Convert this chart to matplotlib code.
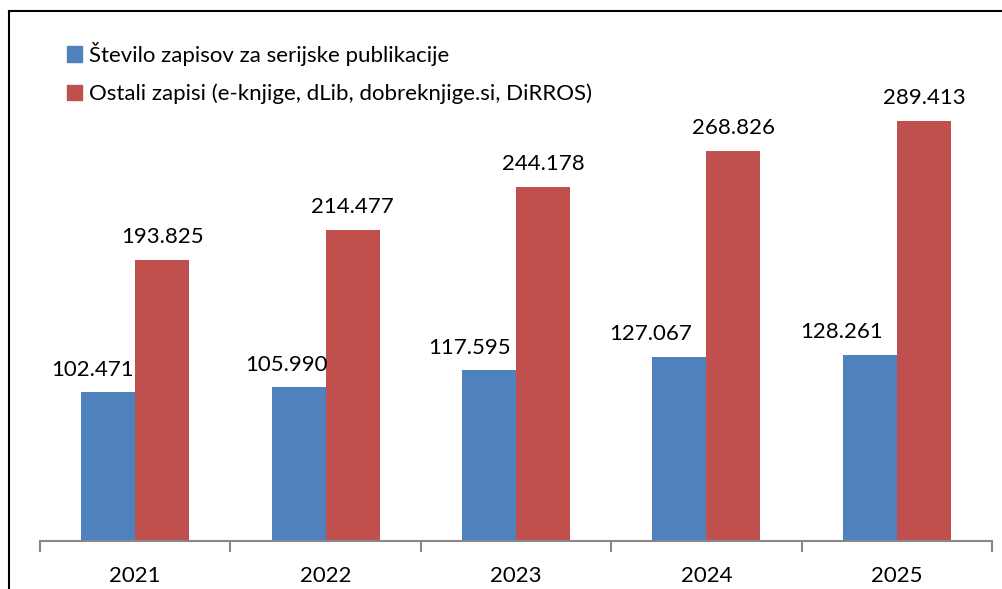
import matplotlib.pyplot as plt
import numpy as np
from matplotlib.lines import Line2D
from matplotlib.patches import Patch

years = ['2021', '2022', '2023', '2024', '2025']
serijske = [102.471, 105.990, 117.595, 127.067, 128.261]
ostali = [193.825, 214.477, 244.178, 268.826, 289.413]
labels = ['Število zapisov za serijske publikacije',
          'Ostali zapisi (e-knjige, dLib, dobreknjige.si, DiRROS)']

# horizontal nudge (points) of the blue value labels, as in the original
blue_label_dx = [-11, -9, -14, -21, -20]

blue = '#4F81BD'
red = '#C0504D'

plt.rcParams['font.family'] = ['Lato', 'DejaVu Sans']

W, H = 1003, 589
fig = plt.figure(figsize=(W / 100, H / 100), dpi=100)
ax = fig.add_axes([40 / W, (H - 541) / H, (992 - 40) / W, (541 - 20) / H])

x = np.arange(len(years))
bw = 0.284
ax.bar(x - bw / 2, serijske, bw, color=blue)
ax.bar(x + bw / 2, ostali, bw, color=red)

for xi, v, dx in zip(x, serijske, blue_label_dx):
    ax.annotate(f'{v:.3f}', (xi - bw / 2, v), xytext=(dx, 9), textcoords='offset points',
                ha='center', va='bottom', fontsize=16)
for xi, v in zip(x, ostali):
    ax.annotate(f'{v:.3f}', (xi + bw / 2, v), xytext=(0, 9), textcoords='offset points',
                ha='center', va='bottom', fontsize=16)

ax.set_xlim(-0.5, len(years) - 0.5)
ax.set_ylim(0, 359)

# axis styling
for s in ['top', 'right', 'left']:
    ax.spines[s].set_visible(False)
ax.spines['bottom'].set_color('#888888')
ax.spines['bottom'].set_linewidth(1.5)
ax.set_yticks([])
ax.set_xticks(x)
ax.set_xticklabels(years, fontsize=16)
ax.tick_params(axis='x', which='major', length=0, pad=18)
ax.set_xticks(np.arange(len(years) + 1) - 0.5, minor=True)
ax.tick_params(axis='x', which='minor', length=8, width=1.5, color='#888888')

# legend
handles = [Patch(color=blue), Patch(color=red)]
fig.legend(handles, labels, loc='upper left', bbox_to_anchor=(58 / W, 1 - 33 / H),
           frameon=False, fontsize=16, handlelength=0.7, handleheight=0.7,
           handletextpad=0.3, labelspacing=0.8, borderaxespad=0)

# outer border (left and top)
fig.add_artist(Line2D([9.5 / W, 9.5 / W], [0, 1 - 11 / H], color='black', lw=1.5))
fig.add_artist(Line2D([9.5 / W, 1], [1 - 11 / H, 1 - 11 / H], color='black', lw=1.5))

fig.savefig('out.png', dpi=100)
